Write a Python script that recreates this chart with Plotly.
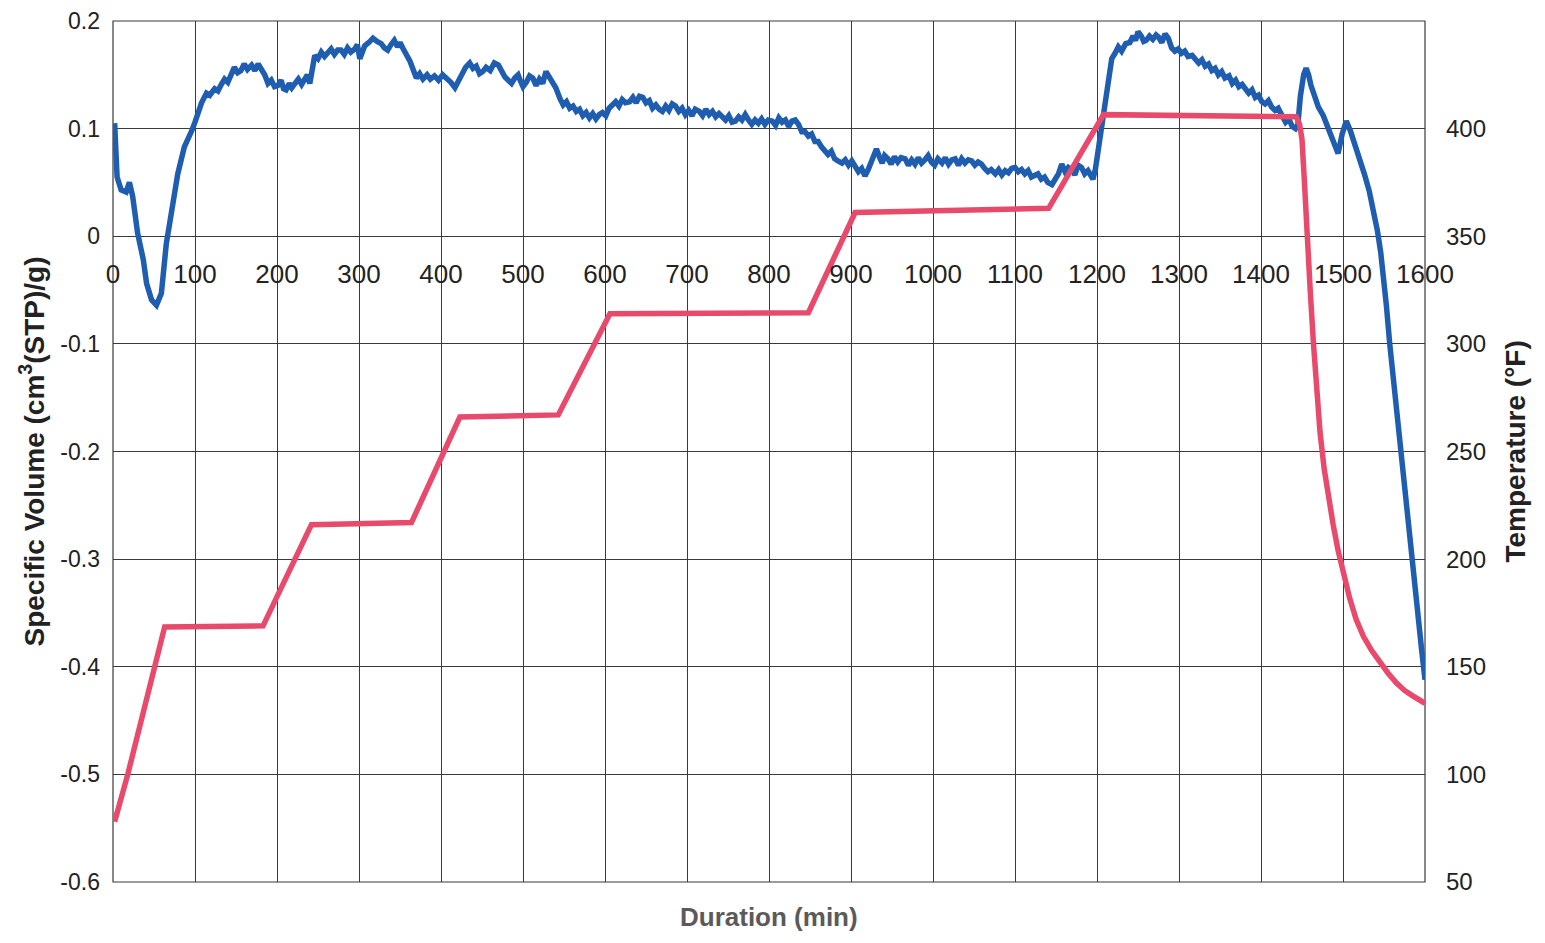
import plotly.graph_objects as go

# ---- data: (duration min, specific volume cm3(STP)/g) ----
specific_volume_pts = [
    (2, 0.105), (3, 0.071), (5, 0.055), (10, 0.043), (16, 0.041), (20, 0.050), (24, 0.037),
    (30, 0.003), (37, -0.022), (41, -0.044), (47, -0.059), (53, -0.064), (59, -0.053),
    (65, -0.007), (71, 0.024), (79, 0.058), (87, 0.083), (92, 0.090), (96, 0.098),
    (100, 0.106), (104, 0.117), (108, 0.124), (114, 0.133), (118, 0.131), (124, 0.137),
    (128, 0.135), (132, 0.141), (136, 0.146), (140, 0.143), (144, 0.150), (148, 0.157),
    (152, 0.152), (156, 0.154), (160, 0.160), (164, 0.155), (169, 0.159), (173, 0.154),
    (177, 0.160), (181, 0.156), (185, 0.150), (189, 0.142), (193, 0.145), (197, 0.139),
    (201, 0.140), (205, 0.145), (208, 0.137), (211, 0.136), (215, 0.142), (218, 0.138),
    (222, 0.143), (226, 0.146), (230, 0.141), (234, 0.145), (237, 0.150), (240, 0.142),
    (243, 0.155), (246, 0.168), (250, 0.165), (254, 0.171), (258, 0.167), (262, 0.170),
    (266, 0.174), (270, 0.169), (274, 0.173), (278, 0.173), (282, 0.169), (286, 0.175),
    (290, 0.171), (295, 0.174), (298, 0.178), (301, 0.165), (304, 0.172), (307, 0.177),
    (312, 0.180), (317, 0.184), (322, 0.181), (327, 0.179), (331, 0.175), (335, 0.173),
    (339, 0.178), (343, 0.182), (347, 0.176), (350, 0.180), (354, 0.174), (358, 0.169),
    (362, 0.163), (366, 0.155), (370, 0.147), (374, 0.151), (378, 0.146), (383, 0.150),
    (387, 0.146), (392, 0.149), (397, 0.145), (402, 0.150), (407, 0.147), (412, 0.143),
    (417, 0.138), (422, 0.145), (426, 0.152), (430, 0.157), (435, 0.161), (439, 0.156),
    (443, 0.158), (447, 0.151), (451, 0.153), (455, 0.157), (460, 0.154), (465, 0.161),
    (470, 0.159), (474, 0.152), (478, 0.148), (482, 0.145), (486, 0.142), (490, 0.147),
    (494, 0.150), (497, 0.144), (500, 0.139), (504, 0.143), (508, 0.149), (512, 0.147),
    (516, 0.140), (520, 0.146), (524, 0.142), (528, 0.153), (532, 0.148), (536, 0.144),
    (540, 0.138), (545, 0.128), (549, 0.122), (553, 0.125), (557, 0.119), (561, 0.121),
    (565, 0.116), (569, 0.118), (573, 0.112), (577, 0.115), (581, 0.110), (585, 0.114),
    (589, 0.109), (593, 0.113), (597, 0.115), (601, 0.112), (605, 0.119), (609, 0.122),
    (613, 0.125), (617, 0.121), (621, 0.127), (625, 0.124), (630, 0.125), (634, 0.129),
    (638, 0.124), (642, 0.130), (646, 0.129), (650, 0.124), (654, 0.126), (658, 0.119),
    (662, 0.122), (666, 0.118), (670, 0.116), (674, 0.121), (678, 0.117), (682, 0.123),
    (686, 0.121), (690, 0.116), (694, 0.119), (698, 0.113), (702, 0.117), (706, 0.112),
    (710, 0.118), (715, 0.116), (719, 0.112), (723, 0.118), (727, 0.113), (731, 0.116),
    (735, 0.111), (739, 0.114), (743, 0.111), (747, 0.108), (751, 0.112), (755, 0.106),
    (759, 0.107), (763, 0.111), (767, 0.108), (771, 0.113), (775, 0.108), (779, 0.104),
    (783, 0.108), (787, 0.105), (791, 0.109), (795, 0.104), (799, 0.108), (804, 0.107),
    (808, 0.103), (812, 0.110), (816, 0.106), (820, 0.108), (824, 0.102), (828, 0.107),
    (832, 0.108), (836, 0.104), (840, 0.097), (844, 0.097), (848, 0.093), (852, 0.095),
    (856, 0.088), (860, 0.088), (864, 0.083), (868, 0.080), (872, 0.076), (876, 0.079),
    (880, 0.072), (884, 0.070), (889, 0.068), (893, 0.071), (897, 0.066), (901, 0.070),
    (905, 0.064), (909, 0.060), (913, 0.063), (917, 0.056), (921, 0.062), (925, 0.070),
    (928, 0.078), (931, 0.081), (935, 0.073), (938, 0.068), (941, 0.075), (945, 0.072),
    (949, 0.067), (953, 0.074), (957, 0.069), (961, 0.073), (966, 0.072), (970, 0.066),
    (974, 0.071), (978, 0.067), (982, 0.073), (986, 0.068), (990, 0.071), (994, 0.075),
    (998, 0.069), (1002, 0.066), (1006, 0.072), (1011, 0.068), (1015, 0.073), (1019, 0.067),
    (1023, 0.071), (1027, 0.072), (1031, 0.066), (1035, 0.072), (1039, 0.068), (1043, 0.071),
    (1047, 0.070), (1051, 0.066), (1055, 0.069), (1059, 0.067), (1063, 0.063), (1067, 0.060),
    (1071, 0.062), (1076, 0.058), (1080, 0.062), (1084, 0.057), (1088, 0.061), (1092, 0.059),
    (1096, 0.063), (1100, 0.064), (1104, 0.060), (1108, 0.062), (1112, 0.058), (1116, 0.061),
    (1120, 0.055), (1124, 0.056), (1128, 0.058), (1132, 0.053), (1136, 0.055), (1140, 0.050),
    (1145, 0.048), (1149, 0.053), (1153, 0.058), (1157, 0.067), (1161, 0.060), (1165, 0.064),
    (1169, 0.062), (1173, 0.057), (1177, 0.066), (1181, 0.064), (1185, 0.058), (1189, 0.061),
    (1192, 0.057), (1195, 0.053), (1198, 0.062), (1202, 0.083), (1206, 0.105), (1210, 0.130),
    (1214, 0.150), (1218, 0.165), (1222, 0.170), (1226, 0.176), (1230, 0.172), (1235, 0.179),
    (1240, 0.180), (1244, 0.186), (1247, 0.182), (1250, 0.190), (1254, 0.186), (1257, 0.181),
    (1260, 0.182), (1264, 0.186), (1268, 0.183), (1272, 0.187), (1275, 0.185), (1279, 0.180),
    (1283, 0.188), (1287, 0.184), (1291, 0.175), (1295, 0.172), (1299, 0.174), (1303, 0.170),
    (1307, 0.172), (1311, 0.167), (1316, 0.168), (1320, 0.165), (1324, 0.161), (1328, 0.164),
    (1332, 0.158), (1336, 0.160), (1340, 0.154), (1344, 0.156), (1348, 0.150), (1352, 0.153),
    (1356, 0.147), (1361, 0.149), (1365, 0.142), (1369, 0.145), (1373, 0.139), (1377, 0.141),
    (1381, 0.137), (1385, 0.133), (1389, 0.136), (1393, 0.129), (1397, 0.131), (1401, 0.125),
    (1405, 0.123), (1409, 0.126), (1413, 0.120), (1417, 0.117), (1421, 0.119), (1425, 0.112),
    (1430, 0.106), (1434, 0.109), (1438, 0.102), (1442, 0.100), (1445, 0.104), (1448, 0.130),
    (1452, 0.150), (1455, 0.156), (1458, 0.150), (1461, 0.140), (1465, 0.130), (1470, 0.120),
    (1476, 0.112), (1482, 0.100), (1488, 0.090), (1494, 0.077), (1499, 0.095), (1504, 0.107),
    (1509, 0.098), (1515, 0.085), (1520, 0.072), (1526, 0.058), (1532, 0.042), (1537, 0.025),
    (1542, 0.005), (1546, -0.015), (1549, -0.034), (1553, -0.065), (1557, -0.100),
    (1561, -0.130), (1565, -0.162), (1569, -0.194), (1573, -0.222), (1578, -0.256),
    (1582, -0.283), (1587, -0.318), (1592, -0.354), (1596, -0.385), (1600, -0.412),
]

# ---- (duration min, temperature °F) ----
temperature_pts = [
    (2, 78), (18, 100), (63, 168.5), (120, 168.5), (183, 169), (242, 216), (300, 216.5),
    (364, 217), (423, 266), (480, 266.5), (543, 267), (606, 314), (700, 314), (848, 314.5),
    (905, 361), (1000, 362), (1141, 363), (1208, 406.5), (1300, 406), (1443, 405.5),
    (1447, 402), (1450, 395), (1453, 375), (1456, 350), (1460, 325), (1464, 300),
    (1468, 278), (1472, 259), (1477, 242), (1482, 229), (1488, 216), (1494, 204),
    (1500, 194), (1508, 182), (1516, 172), (1525, 164), (1535, 157.5), (1545, 152),
    (1555, 147), (1565, 142.5), (1575, 139), (1585, 136.5), (1594, 134.5), (1600, 133),
]

x_ticks = list(range(0, 1700, 100))
x_labels = [str(v) for v in x_ticks]
y_ticks = [0.2, 0.1, 0, -0.1, -0.2, -0.3, -0.4, -0.5, -0.6]
y_labels = ["0.2", "0.1", "0", "-0.1", "-0.2", "-0.3", "-0.4", "-0.5", "-0.6"]
y2_ticks = [50, 100, 150, 200, 250, 300, 350, 400, 450]
y2_labels = [str(v) for v in y2_ticks]

t_sv = [p[0] for p in specific_volume_pts]
specific_volume = [p[1] for p in specific_volume_pts]
t_temp = [p[0] for p in temperature_pts]
temperature = [p[1] for p in temperature_pts]

BLUE = "#1f5db0"
RED = "#e84a6c"
GRID = "#3a3a3a"
FONT = "Liberation Sans, Arial, sans-serif"

fig = go.Figure()
fig.add_trace(go.Scatter(x=t_temp, y=temperature, yaxis="y2", mode="lines",
                         line=dict(color=RED, width=5.5), showlegend=False))
fig.add_trace(go.Scatter(x=t_sv, y=specific_volume, yaxis="y", mode="lines",
                         line=dict(color=BLUE, width=5.5), showlegend=False))

# the page body has an 8px margin, so the figure is 16px smaller than the window
fig.update_layout(
    width=1529, height=927,
    margin=dict(l=105, r=112, t=13, b=53, autoexpand=False),
    paper_bgcolor="white", plot_bgcolor="white",
    font=dict(family=FONT, color="#222"),
    xaxis=dict(range=[0, 1600], tickvals=x_ticks, ticktext=x_labels, automargin=False,
               showgrid=True, gridcolor=GRID, gridwidth=1.2, zeroline=False,
               showline=False, ticks="", anchor="free", position=0.75,
               tickfont=dict(size=26, color="#222"), ticklabelstandoff=20),
    yaxis=dict(range=[-0.6, 0.2], tickvals=y_ticks, ticktext=y_labels, automargin=False,
               showgrid=True, gridcolor=GRID, gridwidth=1.2, zeroline=False,
               showline=False, ticks="", tickfont=dict(size=23, color="#222"),
               ticklabelstandoff=12),
    yaxis2=dict(range=[50, 450], tickvals=y2_ticks, ticktext=y2_labels, automargin=False,
                overlaying="y", side="right", showgrid=False, zeroline=False,
                showline=False, ticks="", tickfont=dict(size=24, color="#222"),
                ticklabelstandoff=20),
    shapes=[dict(type="rect", xref="paper", yref="paper", x0=0, y0=0, x1=1, y1=1,
                 line=dict(color=GRID, width=1.2), layer="below")],
    annotations=[
        dict(text="<b>Specific Volume (cm<sup>3</sup>(STP)/g)</b>", xref="paper", yref="paper",
             x=0, y=0.5, xshift=-81, textangle=-90, showarrow=False,
             xanchor="center", yanchor="middle", font=dict(size=28, color="#222")),
        dict(text="<b>Temperature (°F)</b>", xref="paper", yref="paper",
             x=1, y=0.5, xshift=90, textangle=-90, showarrow=False,
             xanchor="center", yanchor="middle", font=dict(size=28, color="#222")),
        dict(text="<b>Duration (min)</b>", xref="paper", yref="paper",
             x=0.5, y=0, yshift=-35, showarrow=False,
             xanchor="center", yanchor="middle", font=dict(size=26, color="#5a5a5a")),
    ],
)

fig.write_html("out.html")
